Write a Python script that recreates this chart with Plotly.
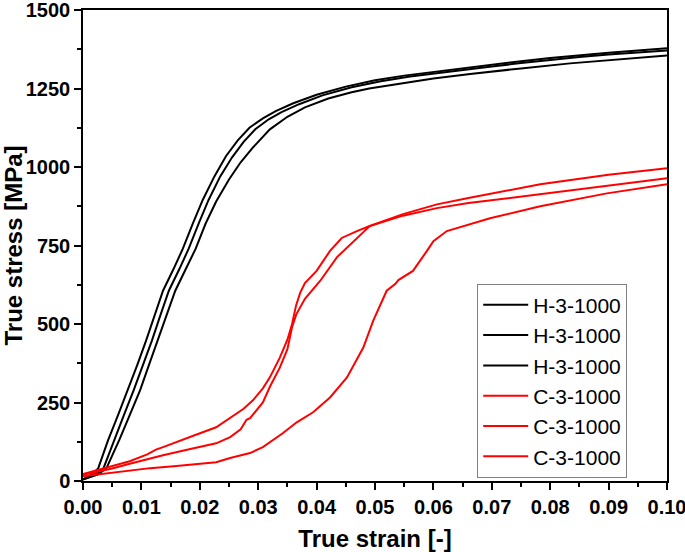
import plotly.graph_objects as go

# ---- data (true strain [-], true stress [MPa]) ----
h1_strain = [0.0000, 0.0015, 0.0026, 0.0043, 0.0060, 0.0077, 0.0093, 0.0108, 0.0122, 0.0137, 0.0155, 0.0171, 0.0188, 0.0205, 0.0225, 0.0245, 0.0265, 0.0285, 0.0308, 0.0330, 0.0360, 0.0400, 0.0450, 0.0500, 0.0550, 0.0600, 0.0660, 0.0700, 0.0750, 0.0800, 0.0850, 0.0900, 0.0950, 0.1000]
h1_stress = [5, 20, 40, 130, 210, 290, 370, 447, 525, 606, 675, 740, 820, 895, 970, 1035, 1085, 1125, 1155, 1178, 1203, 1230, 1256, 1276, 1291, 1303, 1316, 1326, 1337, 1347, 1356, 1364, 1371, 1378]

h2_strain = [0.0000, 0.0020, 0.0035, 0.0053, 0.0070, 0.0087, 0.0103, 0.0118, 0.0132, 0.0147, 0.0165, 0.0181, 0.0198, 0.0215, 0.0235, 0.0255, 0.0275, 0.0295, 0.0318, 0.0340, 0.0370, 0.0410, 0.0460, 0.0510, 0.0560, 0.0610, 0.0660, 0.0700, 0.0750, 0.0800, 0.0850, 0.0900, 0.0950, 0.1000]
h2_stress = [5, 20, 40, 130, 210, 290, 370, 447, 525, 606, 675, 740, 820, 895, 970, 1030, 1080, 1120, 1152, 1175, 1200, 1228, 1254, 1273, 1288, 1300, 1311, 1320, 1331, 1341, 1350, 1358, 1365, 1371]

h3_strain = [0.0000, 0.0025, 0.0040, 0.0062, 0.0080, 0.0098, 0.0113, 0.0128, 0.0142, 0.0158, 0.0176, 0.0193, 0.0210, 0.0228, 0.0250, 0.0270, 0.0290, 0.0320, 0.0350, 0.0380, 0.0420, 0.0460, 0.0490, 0.0550, 0.0600, 0.0663, 0.0700, 0.0750, 0.0834, 0.0900, 0.0950, 0.1000]
h3_stress = [5, 20, 40, 130, 210, 290, 370, 447, 525, 606, 675, 740, 820, 890, 960, 1015, 1060, 1120, 1160, 1190, 1218, 1238, 1250, 1268, 1282, 1296, 1304, 1314, 1330, 1340, 1347, 1355]

c1_strain = [0.0000, 0.0020, 0.0050, 0.0080, 0.0110, 0.0125, 0.0137, 0.0160, 0.0190, 0.0228, 0.0252, 0.0275, 0.0291, 0.0308, 0.0320, 0.0337, 0.0350, 0.0358, 0.0365, 0.0372, 0.0380, 0.0400, 0.0423, 0.0443, 0.0469, 0.0491, 0.0548, 0.0606, 0.0660, 0.0783, 0.0900, 0.1000]
c1_stress = [22, 32, 47, 63, 85, 100, 108, 125, 145, 171, 200, 230, 257, 295, 330, 393, 450, 500, 560, 600, 630, 669, 733, 774, 796, 812, 850, 881, 901, 945, 975, 996]

c2_strain = [0.0000, 0.0020, 0.0050, 0.0080, 0.0110, 0.0137, 0.0180, 0.0228, 0.0252, 0.0270, 0.0280, 0.0286, 0.0308, 0.0320, 0.0337, 0.0350, 0.0358, 0.0365, 0.0380, 0.0406, 0.0435, 0.0469, 0.0491, 0.0548, 0.0606, 0.0660, 0.0783, 0.0900, 0.1000]
c2_stress = [20, 28, 40, 55, 70, 82, 100, 120, 140, 165, 195, 200, 250, 300, 361, 420, 490, 530, 580, 637, 713, 774, 812, 845, 869, 885, 913, 940, 964]

c3_strain = [0.0000, 0.0030, 0.0060, 0.0115, 0.0160, 0.0228, 0.0252, 0.0286, 0.0308, 0.0342, 0.0366, 0.0394, 0.0423, 0.0452, 0.0480, 0.0497, 0.0520, 0.0535, 0.0540, 0.0565, 0.0589, 0.0600, 0.0623, 0.0663, 0.0697, 0.0783, 0.0897, 0.1000]
c3_stress = [15, 22, 30, 41, 48, 60, 73, 89, 108, 152, 187, 219, 266, 330, 425, 511, 606, 628, 640, 669, 733, 764, 796, 818, 837, 875, 916, 945]

series_names = ["H-3-1000", "H-3-1000", "H-3-1000", "C-3-1000", "C-3-1000", "C-3-1000"]
series_x = [h1_strain, h2_strain, h3_strain, c1_strain, c2_strain, c3_strain]
series_y = [h1_stress, h2_stress, h3_stress, c1_stress, c2_stress, c3_stress]
series_colors = ["#000000", "#000000", "#000000", "#ff0000", "#ff0000", "#ff0000"]

x_ticks = [0.00, 0.01, 0.02, 0.03, 0.04, 0.05, 0.06, 0.07, 0.08, 0.09, 0.10]
y_ticks = [0, 250, 500, 750, 1000, 1250, 1500]

fig = go.Figure()
for name, xs, ys, col in zip(series_names, series_x, series_y, series_colors):
    fig.add_trace(go.Scatter(x=xs, y=ys, mode="lines", name=name,
                             line=dict(color=col, width=2)))

FONT = "Liberation Sans, Arial, sans-serif"
bold = dict(family=FONT, size=20, color="black", weight="bold")
title_font = dict(family=FONT, size=24, color="black", weight="bold")

fig.update_layout(
    width=685, height=552,
    margin=dict(l=83, r=18, t=10, b=71),
    plot_bgcolor="white", paper_bgcolor="white",
    showlegend=True,
    legend=dict(x=0.675, y=0.419, xanchor="left", yanchor="top",
                bordercolor="#808080", borderwidth=1, bgcolor="white",
                font=dict(family=FONT, size=21, color="black"),
                tracegroupgap=0, itemwidth=45),
    xaxis=dict(range=[0, 0.1], tickvals=x_ticks, tickformat=".2f",
               ticks="outside", ticklen=7, tickwidth=1.5, tickcolor="black",
               showline=True, linecolor="black", linewidth=1.5, mirror=True,
               showgrid=False, zeroline=False, tickfont=bold, automargin=False,
               ticklabeloverflow="allow",
               minor=dict(dtick=0.005, ticks="outside", ticklen=4, tickcolor="black", tickwidth=1.5),
               title=dict(text="True strain [-]", standoff=26, font=title_font)),
    yaxis=dict(range=[0, 1500], tickvals=y_ticks,
               ticks="outside", ticklen=7, tickwidth=1.5, tickcolor="black",
               showline=True, linecolor="black", linewidth=1.5, mirror=True,
               showgrid=False, zeroline=False, tickfont=bold, automargin=False,
               ticklabeloverflow="allow",
               minor=dict(dtick=125, ticks="outside", ticklen=4, tickcolor="black", tickwidth=1.5),
               title=dict(text="True stress [MPa]", standoff=6, font=title_font)),
)

fig.write_html("out.html", config={"displayModeBar": False},
               post_script="document.body.style.margin='0';document.body.style.overflow='hidden';")
